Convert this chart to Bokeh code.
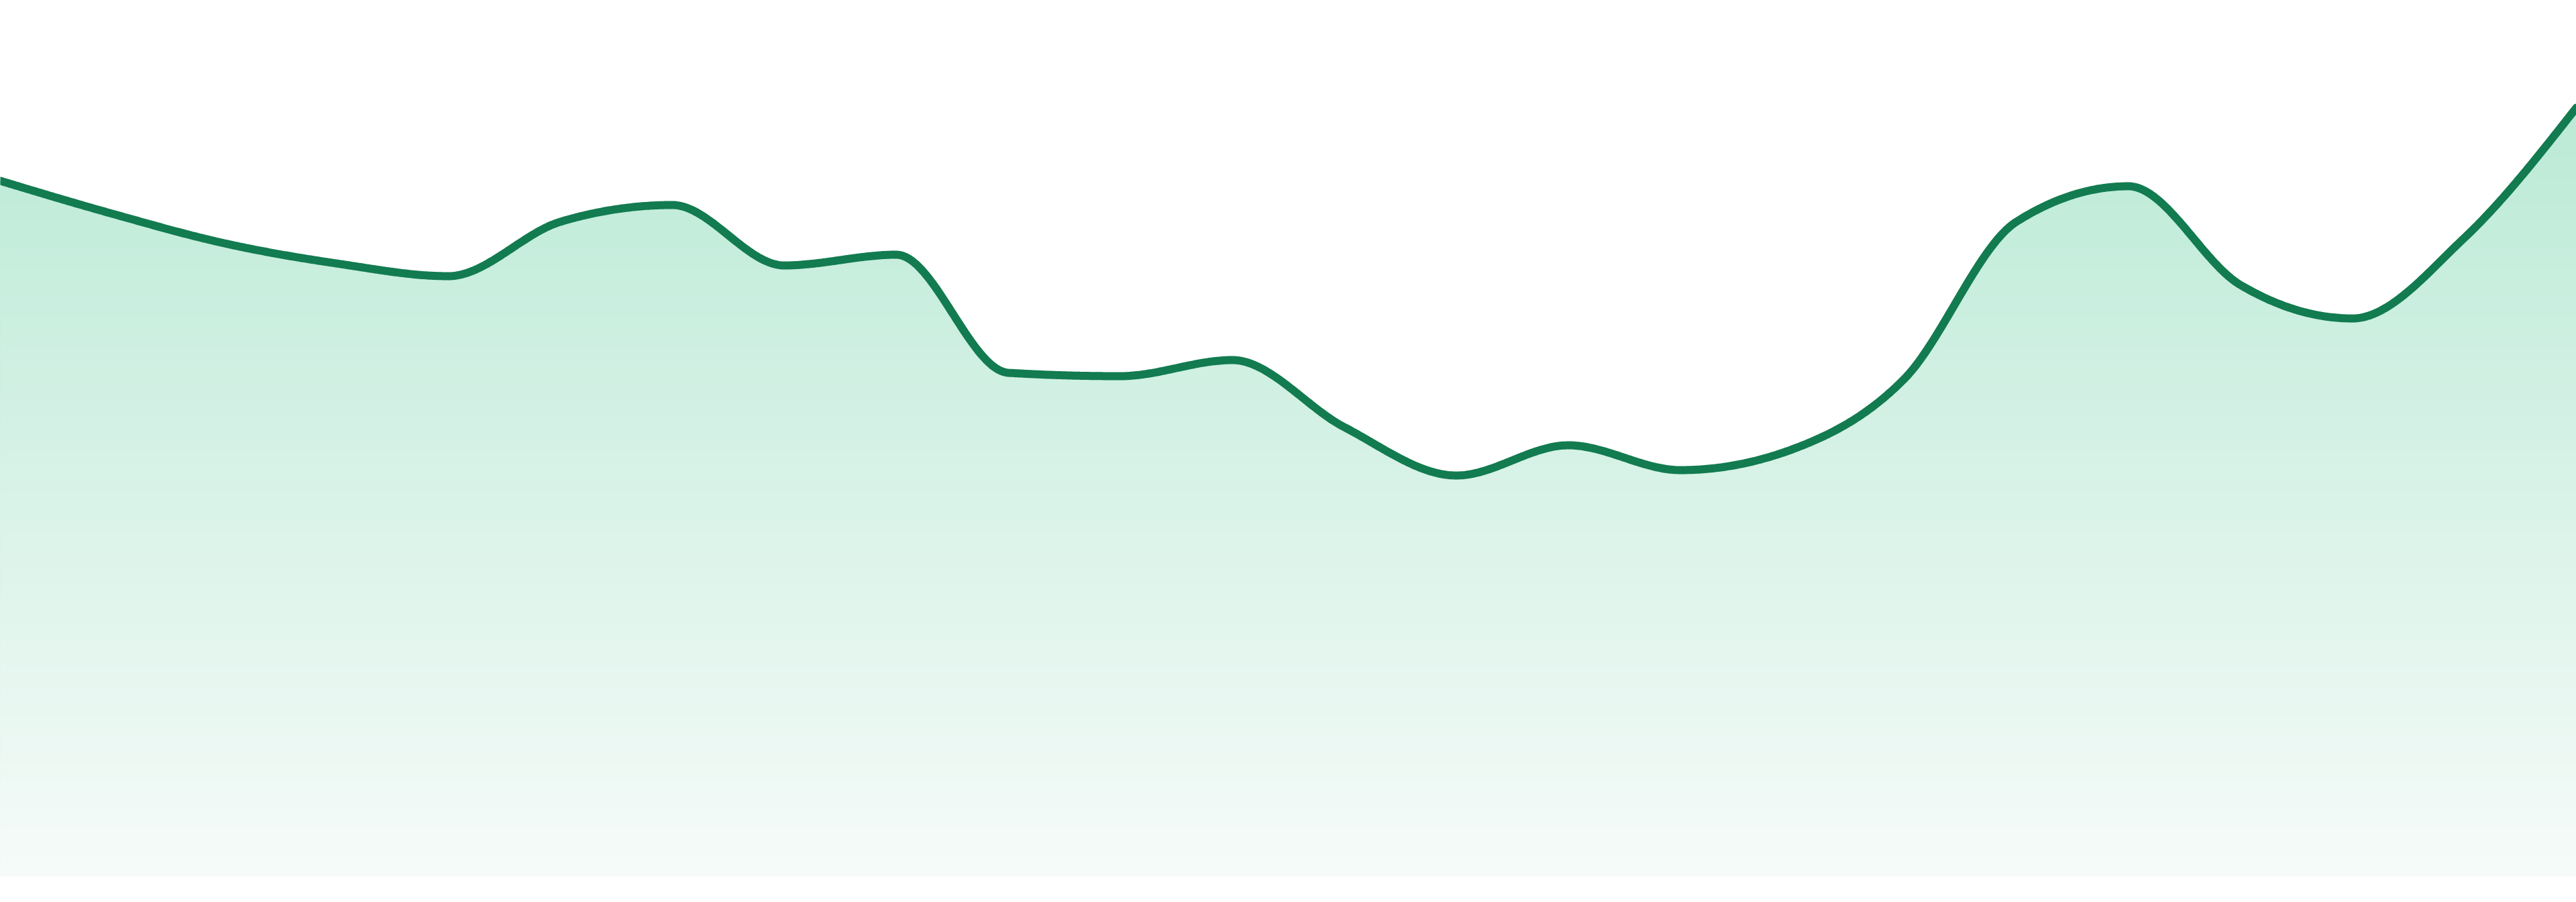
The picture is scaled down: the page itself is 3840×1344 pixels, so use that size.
import numpy as np
from bokeh.plotting import figure
from bokeh.models import Range1d
from bokeh.embed import file_html
from bokeh.resources import INLINE

# ---- data ----
index = list(range(24))
values = [103.6, 98.7, 94.3, 91.3, 89.4, 97.5, 100.0, 91.0, 92.6, 75.0, 74.5, 76.9,
          66.9, 59.7, 64.2, 60.5, 63.6, 74.1, 97.5, 102.8, 88.1, 83.1, 95.1, 114.5]
baseline = 0.0

line_color = "#127b50"
fill_top_rgb = (187, 234, 214)
fill_bottom_rgb = (246, 251, 249)


def monotone_x(x, y, n=60):
    """Monotone cubic interpolation (same as d3.curveMonotoneX)."""
    x = np.asarray(x, float)
    y = np.asarray(y, float)
    m = len(x)
    h = np.diff(x)
    s = np.diff(y) / h
    t = np.zeros(m)
    for i in range(1, m - 1):
        h0, h1 = h[i - 1], h[i]
        s0, s1 = s[i - 1], s[i]
        p = (s0 * h1 + s1 * h0) / (h0 + h1)
        t[i] = (np.sign(s0) + np.sign(s1)) * min(abs(s0), abs(s1), 0.5 * abs(p))
    t[0] = (3 * s[0] - t[1]) / 2
    t[-1] = (3 * s[-1] - t[-2]) / 2
    xs, ys = [], []
    for i in range(m - 1):
        u = np.linspace(0, 1, n, endpoint=(i == m - 2))
        dx = h[i]
        h00 = 2 * u**3 - 3 * u**2 + 1
        h10 = u**3 - 2 * u**2 + u
        h01 = -2 * u**3 + 3 * u**2
        h11 = u**3 - u**2
        xs.append(x[i] + u * dx)
        ys.append(h00 * y[i] + h10 * dx * t[i] + h01 * y[i + 1] + h11 * dx * t[i + 1])
    return np.concatenate(xs), np.concatenate(ys)


cx, cy = monotone_x(index, values)

W, H = 3840, 1344
x_lo, x_hi = index[0], index[-1]
y_lo = (1305 - 1344) / 10
y_hi = 1305 / 10

p = figure(width=W, height=H, output_backend="svg", toolbar_location=None,
           x_range=Range1d(x_lo, x_hi), y_range=Range1d(y_lo, y_hi),
           x_axis_location=None, y_axis_location=None, min_border=0,
           background_fill_color="white", border_fill_color="white")
p.outline_line_color = None
p.grid.visible = False

# vertical gradient fill under the curve, built from stacked area layers
vmax = max(values)
K = 110
for k in range(K, 0, -1):
    thr = vmax * k / K if k < K else vmax + 5
    f = (k - 0.5) / K
    r = round(fill_bottom_rgb[0] + (fill_top_rgb[0] - fill_bottom_rgb[0]) * f)
    g = round(fill_bottom_rgb[1] + (fill_top_rgb[1] - fill_bottom_rgb[1]) * f)
    b = round(fill_bottom_rgb[2] + (fill_top_rgb[2] - fill_bottom_rgb[2]) * f)
    p.varea(x=cx, y1=np.full_like(cx, baseline), y2=np.minimum(cy, thr),
            fill_color=f"#{r:02x}{g:02x}{b:02x}", fill_alpha=1.0)

p.line(cx, cy, line_color=line_color, line_width=12, line_join="round", line_cap="round")

open("out.html", "w").write(file_html(p, INLINE))
